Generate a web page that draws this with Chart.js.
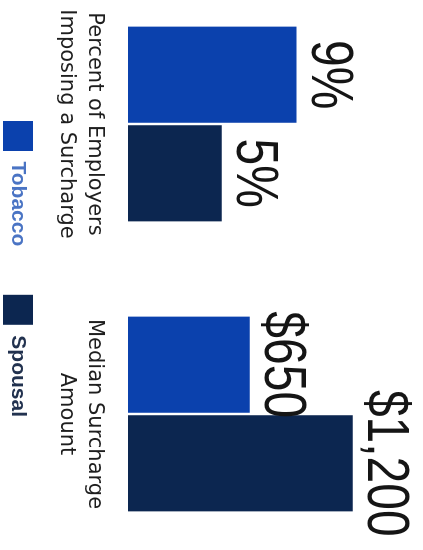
<!DOCTYPE html>
<html lang="en">
<head>
  <meta charset="UTF-8">
  <title>Tobacco and Spousal Surcharges</title>
  <script src="https://cdn.jsdelivr.net/npm/chart.js"></script>
  <style>
    html, body { margin: 0; padding: 0; background: #fff; overflow: hidden; }
    /* the chart is laid out landscape and turned a quarter clockwise */
    #wrap {
      position: absolute; left: 0; top: 0;
      width: 550px; height: 423px;
      transform-origin: 0 0;
      transform: translate(423px, 0) rotate(90deg);
    }
  </style>
</head>
<body>
  <div id="wrap"><canvas id="surchargeChart" width="550" height="423"></canvas></div>

  <script>
    const categories = [['Percent of Employers', 'Imposing a Surcharge'], ['Median Surcharge', 'Amount']];
    const units = ['pct', 'usd'];
    const seriesNames = ['Tobacco', 'Spousal'];
    const tobacco = [9, 650];
    const spousal = [5, 1200];

    const barColors = ['#0b41ad', '#0c2650'];
    const legendText = ['#4a74c4', '#22324f'];

    function fmt(unit, v) {
      return unit === 'pct' ? v + '%' : '$' + v.toLocaleString('en-US');
    }

    // one dataset per series and unit, so each group can use its own axis
    const datasets = [];
    units.forEach((unit, u) => {
      [tobacco, spousal].forEach((values, s) => {
        datasets.push({
          label: seriesNames[s],
          unit: unit,
          data: values.map((v, i) => (i === u ? v : null)),
          yAxisID: unit === 'pct' ? 'yPct' : 'yUsd',
          backgroundColor: barColors[s],
          borderWidth: 0,
          skipNull: true,
          categoryPercentage: 0.68,
          barPercentage: 0.975,
          clip: false
        });
      });
    });

    // big value labels above each bar, drawn a bit condensed
    const valueLabels = {
      id: 'valueLabels',
      afterDatasetsDraw(chart) {
        const ctx = chart.ctx;
        chart.data.datasets.forEach((ds, i) => {
          chart.getDatasetMeta(i).data.forEach((bar, j) => {
            const v = ds.data[j];
            if (v == null) return;
            ctx.save();
            ctx.translate(bar.x, bar.y - 15);
            ctx.scale(0.8, 1);
            ctx.font = '60px "Liberation Sans", Arial, sans-serif';
            ctx.fillStyle = '#151515';
            ctx.textAlign = 'center';
            ctx.textBaseline = 'alphabetic';
            ctx.fillText(fmt(ds.unit, v), 0, 0);
            ctx.restore();
          });
        });
      }
    };

    const hiddenAxis = (pos, max, width) => ({
      position: pos,
      min: 0,
      max: max,
      grid: { display: false, drawTicks: false },
      border: { display: false },
      ticks: { display: false },
      afterFit(scale) { scale.width = width; }
    });

    new Chart(document.getElementById('surchargeChart'), {
      type: 'bar',
      data: { labels: categories, datasets: datasets },
      options: {
        responsive: false,
        animation: false,
        devicePixelRatio: 1,
        layout: { padding: { top: 14, right: 12, bottom: -7, left: 0 } },
        plugins: {
          tooltip: { enabled: false },
          legend: {
            position: 'bottom',
            labels: {
              boxWidth: 30,
              boxHeight: 30,
              padding: 17,
              font: { family: '"Liberation Sans", Arial, sans-serif', size: 21, weight: 'bold' },
              generateLabels() {
                return seriesNames.map((name, s) => ({
                  // trailing spaces widen the gap before the next entry
                  text: s === 0 ? name + '\u2003\u2002' : name,
                  fillStyle: barColors[s],
                  strokeStyle: barColors[s],
                  lineWidth: 0,
                  fontColor: legendText[s],
                  hidden: false,
                  datasetIndex: s
                }));
              }
            }
          }
        },
        scales: {
          x: {
            offset: false,
            grid: { display: false, drawTicks: false },
            border: { display: false },
            ticks: {
              autoSkip: false,
              maxRotation: 0,
              padding: 20,
              color: '#1e1e1e',
              font: { family: '"DejaVu Sans", sans-serif', size: 21, lineHeight: 1.333 }
            },
            // labels may hang past the plot edges; keep the plot where the hidden axes put it
            afterFit(scale) {
              scale.paddingLeft = 0;
              scale.paddingRight = 0;
              scale.height = 78;
            }
          },
          yPct: hiddenAxis('left', 15, 124),
          yUsd: hiddenAxis('right', 1500, 124)
        }
      },
      plugins: [valueLabels]
    });
  </script>
</body>
</html>
